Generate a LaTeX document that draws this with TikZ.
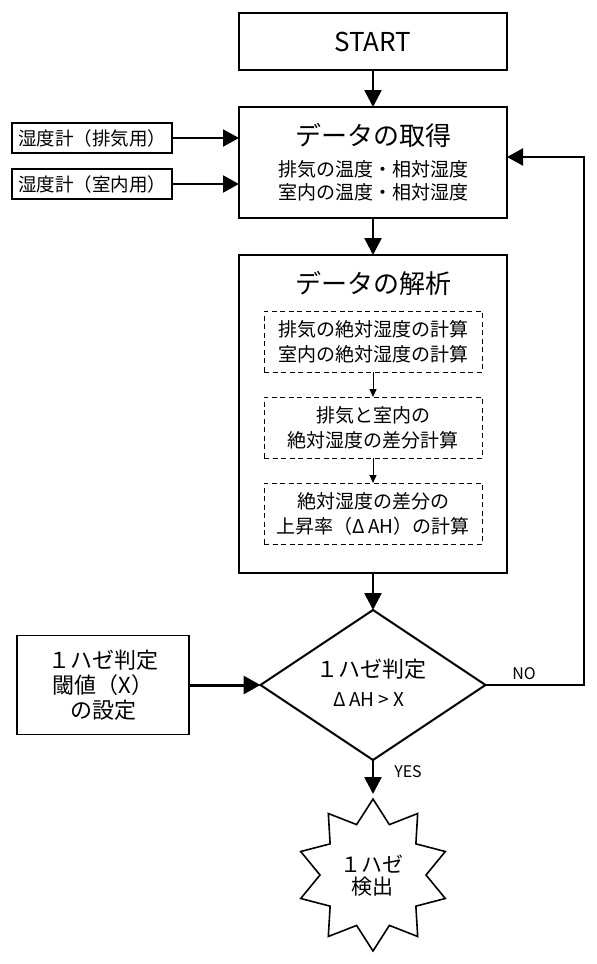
\documentclass[tikz,border=0pt]{standalone}
\usepackage{fontspec}
\setmainfont{Noto Sans CJK JP}
\usetikzlibrary{arrows.meta,shapes.geometric}
\newcommand{\fsz}[2]{\fontsize{#1}{#2}\selectfont}
\begin{document}
\begin{tikzpicture}[x=1pt,y=-1pt,
  mainbox/.style={draw, line width=2.6pt, minimum width=268pt, inner sep=0pt, outer sep=0pt},
  sensbox/.style={draw, line width=2pt, minimum width=160pt, minimum height=30pt, inner sep=0pt, outer sep=0pt, font=\fsz{18.5}{20}},
  dbox/.style={draw, dashed, dash pattern=on 5pt off 3.5pt, line width=0.9pt, minimum width=218pt, minimum height=61pt, inner sep=0pt, outer sep=0pt, align=center, font=\fsz{19}{25}},
  txt/.style={inner sep=0pt, align=center},
  bigarrow/.style={line width=2.6pt, -{Triangle[length=17pt,width=17pt]}},
  medarrow/.style={line width=2pt, -{Triangle[length=16pt,width=17pt]}},
  smallarrow/.style={line width=1pt, -{Triangle[length=8pt,width=7pt]}},
  lbl/.style={font=\fsz{16}{18}, inner sep=0pt}
]
\useasboundingbox (0,0) rectangle (597,964);
\fill[white] (0,0) rectangle (597,964);

% START
\node[mainbox, minimum height=57pt, font=\fsz{26}{30}] (start) at (373,41.5) {START};

% data acquisition
\node[mainbox, minimum height=111pt] (acq) at (373,162.5) {};
\node[txt, font=\fsz{26}{30}] (acqt) at (373,135) {データの取得};
\node[txt, font=\fsz{19}{23}] (acqs) at (373,180.5) {排気の温度・相対湿度\\室内の温度・相対湿度};

% sensors
\node[sensbox] (s1) at (92,138) {湿度計（排気用）};
\node[sensbox] (s2) at (92,184) {湿度計（室内用）};

% analysis
\node[mainbox, minimum height=318pt] (ana) at (373,414) {};
\node[txt, font=\fsz{26}{30}] (anat) at (373,283) {データの解析};
\node[dbox] (d1) at (373,341.5) {排気の絶対湿度の計算\\室内の絶対湿度の計算};
\node[dbox] (d2) at (373,427.5) {排気と室内の\\絶対湿度の差分計算};
\node[dbox] (d3) at (373,513.5) {絶対湿度の差分の\\上昇率（Δ\,AH）の計算};

% decision
\node[diamond, draw, line width=2pt, minimum width=225pt, minimum height=150pt, inner sep=0pt, outer sep=0pt] (dia) at (373,685) {};
\node[txt, font=\fsz{22}{26}] (diat) at (371,669) {１ハゼ判定};
\node[txt, font=\fsz{19}{22}] (diac) at (369,700) {Δ\,AH > X};

% threshold
\node[draw, line width=1.5pt, minimum width=172pt, minimum height=99pt, inner sep=0pt, outer sep=0pt, align=center, font=\fsz{22}{25}] (th) at (103,685) {１ハゼ判定\\閾値（X）\\の設定};

% burst
\coordinate (starc) at (373,875);
\coordinate (startop) at (373,799);
\draw[line width=1.6pt, line join=miter, fill=white] (startop)
  \foreach \i in {1,...,19}{ -- ({373+ifthenelse(mod(\i,2)==0,76,53)*cos(90-18*\i)},{875-ifthenelse(mod(\i,2)==0,76,53)*sin(90-18*\i)}) } -- cycle;
\node[txt, font=\fsz{21}{22}] (burst) at (372,876) {１ハゼ\\検出};

% connectors
\draw[bigarrow] (start) -- (acq);
\draw[bigarrow] (acq) -- (ana);
\draw[bigarrow] (ana) -- (dia.north);
\draw[medarrow] (s1.east) -- (s1.east -| acq.west);
\draw[medarrow] (s2.east) -- (s2.east -| acq.west);
\draw[smallarrow] (d1) -- (d2);
\draw[smallarrow] (d2) -- (d3);
\draw[line width=3pt, -{Triangle[length=17pt,width=18pt]}] (th.east) -- (dia.west);
\coordinate (fbcorner) at (584,685);
\draw[medarrow] (dia.east) -- (fbcorner) |- ([yshift=5.5pt]acq.east);
\draw[bigarrow, shorten >=5pt] (dia.south) -- (startop);
\node[lbl] (no) at (524,674) {NO};
\node[lbl] (yes) at (408,772) {YES};
\end{tikzpicture}
\end{document}
